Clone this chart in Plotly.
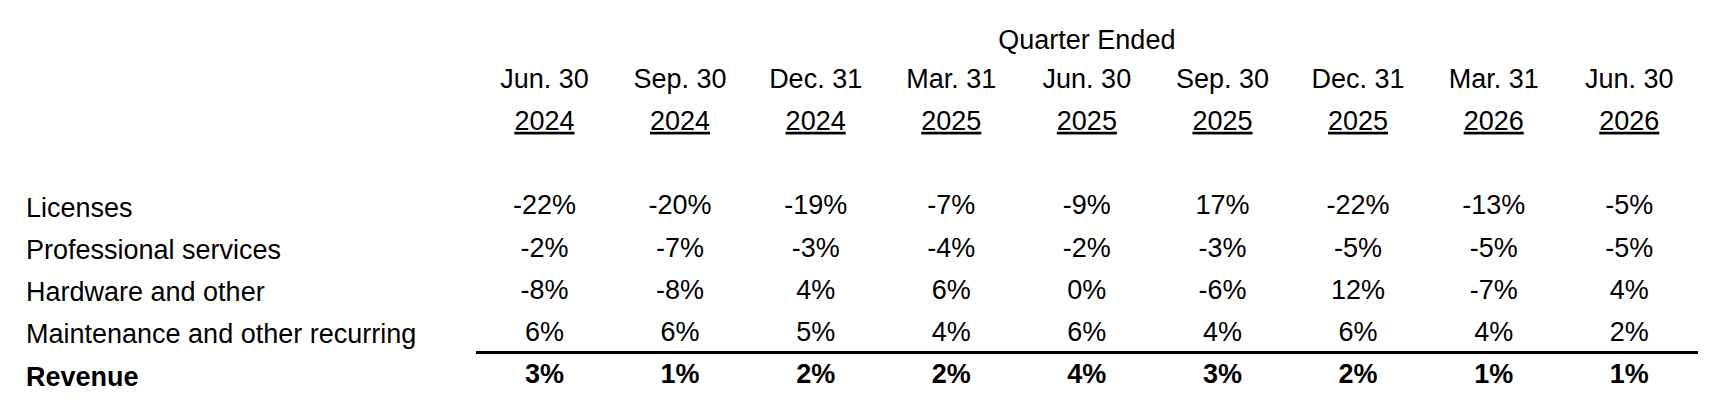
import plotly.graph_objects as go

# ---- data ----
months = ["Jun. 30", "Sep. 30", "Dec. 31", "Mar. 31", "Jun. 30", "Sep. 30", "Dec. 31", "Mar. 31", "Jun. 30"]
years = ["2024", "2024", "2024", "2025", "2025", "2025", "2025", "2026", "2026"]
row_labels = ["Licenses", "Professional services", "Hardware and other",
              "Maintenance and other recurring", "Revenue"]
licenses = [-22, -20, -19, -7, -9, 17, -22, -13, -5]
professional_services = [-2, -7, -3, -4, -2, -3, -5, -5, -5]
hardware_and_other = [-8, -8, 4, 6, 0, -6, 12, -7, 4]
maintenance_recurring = [6, 6, 5, 4, 6, 4, 6, 4, 2]
revenue = [3, 1, 2, 2, 4, 3, 2, 1, 1]
header_title = "Quarter Ended"

rows = [licenses, professional_services, hardware_and_other, maintenance_recurring, revenue]

FONT = "Liberation Sans, Arial, sans-serif"
FS = 27
ncol = len(months)
cols = list(range(ncol))

fig = go.Figure()

# header rows
fig.add_trace(go.Scatter(x=[(ncol - 1) / 2], y=[-3.9], mode="text", text=[header_title],
                         textposition="middle center",
                         textfont=dict(family=FONT, size=FS, color="black"),
                         hoverinfo="skip", showlegend=False))
fig.add_trace(go.Scatter(x=cols, y=[-3] * ncol, mode="text", text=months,
                         textposition="middle center",
                         textfont=dict(family=FONT, size=FS, color="black"),
                         hoverinfo="skip", showlegend=False))
fig.add_trace(go.Scatter(x=cols, y=[-2] * ncol, mode="text",
                         text=[f"<u>{y}</u>" for y in years],
                         textposition="middle center",
                         textfont=dict(family=FONT, size=FS, color="black"),
                         hoverinfo="skip", showlegend=False))

# data rows
for r, vals in enumerate(rows):
    bold = r == len(rows) - 1
    txt = [f"<b>{v}%</b>" if bold else f"{v}%" for v in vals]
    fig.add_trace(go.Scatter(x=cols, y=[r] * ncol, mode="text", text=txt,
                             textposition="middle center",
                             textfont=dict(family=FONT, size=FS, color="black"),
                             hoverinfo="skip", showlegend=False))
    label = f"<b>{row_labels[r]}</b>" if bold else row_labels[r]
    fig.add_annotation(x=-3.839, y=r, xref="x", yref="y", text=label, showarrow=False,
                       xanchor="left", yanchor="middle",
                       font=dict(family=FONT, size=FS, color="black"))

# total rule above revenue
fig.add_shape(type="line", x0=-0.505, x1=8.507, y0=3.43, y1=3.43, xref="x", yref="y",
              line=dict(color="black", width=3))

fig.update_layout(
    width=1704, height=404,
    margin=dict(l=0, r=0, t=0, b=0),
    paper_bgcolor="white", plot_bgcolor="white",
    xaxis=dict(range=[-3.956, 8.610], visible=False, fixedrange=True),
    yaxis=dict(range=[4.840, -4.722], visible=False, fixedrange=True),
    showlegend=False,
)

fig.write_html("out.html")
